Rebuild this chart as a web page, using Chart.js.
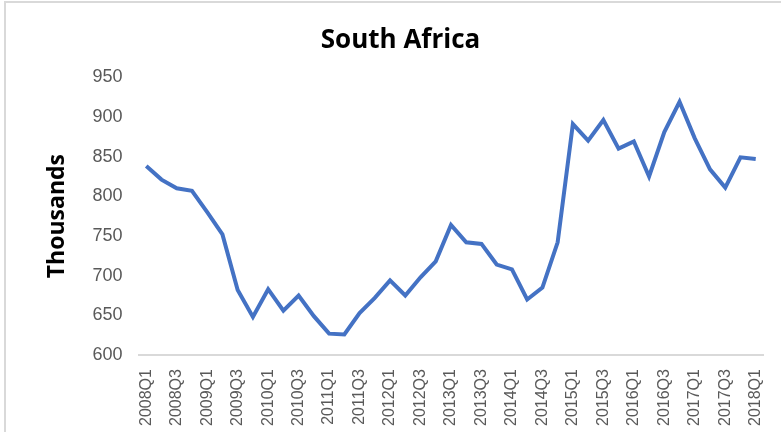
<!DOCTYPE html>
<html>
<head>
<meta charset="utf-8">
<script src="https://cdn.jsdelivr.net/npm/chart.js@4/dist/chart.umd.min.js"></script>
<style>
  html, body { margin: 0; padding: 0; background: #fff; }
  #wrap {
    position: absolute; left: 4px; top: 1px; width: 777px; height: 431px;
    border-left: 2px solid #d9d9d9; border-top: 2px solid #d9d9d9;
    box-sizing: border-box;
  }
  canvas { display: block; }
</style>
</head>
<body>
<div id="wrap"><canvas id="c"></canvas></div>
<script>
// Trimestres 2008Q1 .. 2018Q1, valores en miles
const QUARTERS = [
  '2008Q1','2008Q2','2008Q3','2008Q4',
  '2009Q1','2009Q2','2009Q3','2009Q4',
  '2010Q1','2010Q2','2010Q3','2010Q4',
  '2011Q1','2011Q2','2011Q3','2011Q4',
  '2012Q1','2012Q2','2012Q3','2012Q4',
  '2013Q1','2013Q2','2013Q3','2013Q4',
  '2014Q1','2014Q2','2014Q3','2014Q4',
  '2015Q1','2015Q2','2015Q3','2015Q4',
  '2016Q1','2016Q2','2016Q3','2016Q4',
  '2017Q1','2017Q2','2017Q3','2017Q4',
  '2018Q1'
];
const VALUES = [
  838, 821, 810, 807,
  780, 752, 682, 648,
  683, 656, 675, 649,
  627, 626, 653, 672,
  694, 675, 698, 718,
  764, 742, 740, 714,
  708, 670, 685, 742,
  891, 870, 896, 860,
  869, 825, 881, 919,
  873, 834, 811, 849,
  847
];
const Y_MIN = 600, Y_MAX = 950, Y_STEP = 50;

const COLOR_LINE = '#4472C4';
const COLOR_TICK = '#595959';
const COLOR_AXIS = '#d9d9d9';

const canvas = document.getElementById('c');
canvas.width = 775; canvas.height = 429;

new Chart(canvas.getContext('2d'), {
  type: 'line',
  data: {
    labels: QUARTERS,
    datasets: [{
      data: VALUES,
      borderColor: COLOR_LINE,
      borderWidth: 4,
      pointRadius: 0,
      tension: 0,
      fill: false,
    }],
  },
  options: {
    responsive: false,
    animation: false,
    layout: { padding: { left: 20, right: 6, top: 22, bottom: 0 } },
    scales: {
      x: {
        offset: true,
        grid: { display: false },
        border: { color: COLOR_AXIS, width: 2 },
        ticks: {
          autoSkip: false,
          maxRotation: 90,
          minRotation: 90,
          color: COLOR_TICK,
          padding: 6,
          font: { family: 'Liberation Sans', size: 16 },
          callback: (v, i) => (i % 2 === 0 ? QUARTERS[i] : ''),
        },
      },
      y: {
        min: Y_MIN,
        max: Y_MAX,
        grid: { display: false },
        border: { display: false },
        ticks: {
          stepSize: Y_STEP,
          color: COLOR_TICK,
          padding: 8,
          font: { family: 'Liberation Sans', size: 18 },
        },
        title: {
          display: true,
          text: 'Thousands',
          color: '#000',
          // padding.top = espacio exterior (izquierda) del título rotado
          padding: { top: 18, bottom: 13 },
          font: { family: 'Open Sans', size: 23, weight: 'bold' },
        },
      },
    },
    plugins: {
      legend: { display: false },
      tooltip: { enabled: false },
      title: {
        display: true,
        text: 'South Africa',
        color: '#000',
        padding: { top: 0, bottom: 21 },
        font: { family: 'Open Sans', size: 26, weight: 'bold' },
      },
    },
  },
});
</script>
</body>
</html>
